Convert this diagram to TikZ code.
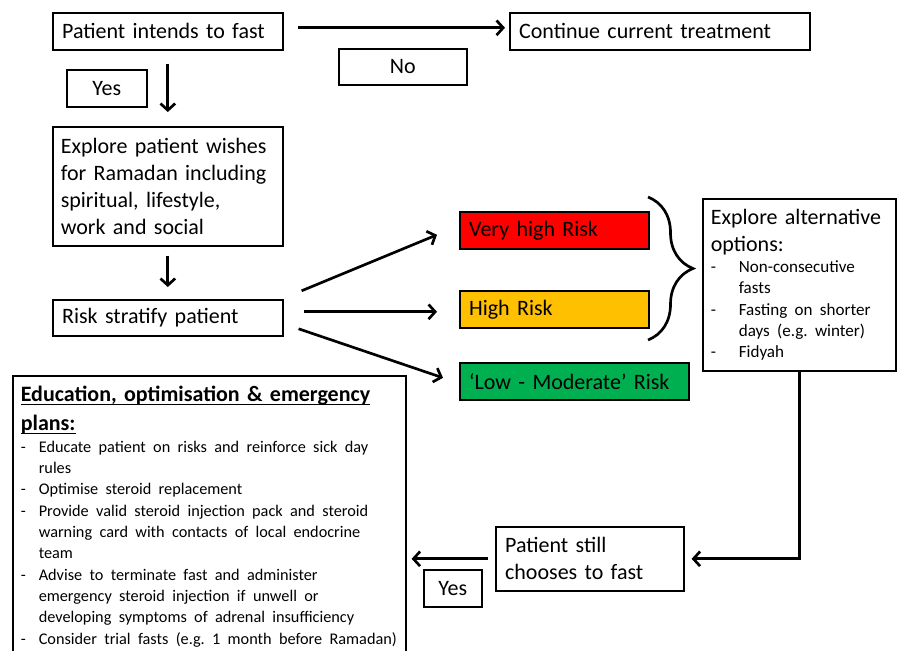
\documentclass[tikz,border=0pt]{standalone}
\usepackage{fontspec}
\setmainfont{Carlito}
\usetikzlibrary{arrows.meta,decorations.pathreplacing,calc}
\frenchspacing

\definecolor{riskred}{HTML}{FF0000}
\definecolor{riskamber}{HTML}{FFC000}
\definecolor{riskgreen}{HTML}{00B050}

\newcommand{\bigtxt}{\fontsize{16.5}{20.25}\selectfont}
\newcommand{\smalltxt}{\fontsize{12.2}{16}\selectfont}
\newcommand{\alttxt}{\fontsize{12.8}{16}\selectfont}
\newcommand{\headtxt}{\fontsize{16.5}{21.75}\selectfont\bfseries}
\newcommand{\headul}[1]{\leavevmode\setbox0=\hbox{#1}\rlap{\rule[-2.4pt]{\wd0}{1.1pt}}\box0}
\newcommand{\optitem}[2][13.5pt]{\par\noindent\hangindent=#1\hangafter=1\makebox[#1][l]{-}#2}

\begin{document}
\begin{tikzpicture}[x=0.75pt, y=-0.75pt, font=\bigtxt,
    box/.style={draw, line width=1.2pt, anchor=north west, align=left, inner xsep=7pt, inner ysep=0pt},
    tag/.style={draw, line width=1.2pt, anchor=north west, align=center, inner sep=0pt},
    arr/.style={-{Straight Barb[length=5pt,width=11pt]}, line width=2pt}]
    \useasboundingbox (0,0) rectangle (898,650);

    \node (intend) [box, text width=158.5pt, minimum height=27.75pt] at (52,12) {Patient intends to fast};
    \node (yes1) [tag, minimum width=60pt, minimum height=27.75pt] at (66,69) {Yes};
    \node (no) [tag, minimum width=96pt, minimum height=27pt] at (338,48) {No};
    \node (cont) [box, text width=211pt, minimum height=27.75pt] at (509,12) {Continue current treatment};
    \node (wishes) [box, inner xsep=6pt, text width=160.5pt, minimum height=89.25pt] at (52,126)
        {Explore patient wishes\\for Ramadan including\\spiritual, lifestyle,\\work and social};
    \node (stratify) [box, text width=158.5pt, minimum height=27pt] at (52,299) {Risk stratify patient};

    \node (vhigh) [box, fill=riskred, text width=127.75pt, minimum height=27.75pt] at (459,211) {Very high Risk};
    \node (high) [box, fill=riskamber, text width=127.75pt, minimum height=27.75pt] at (459,290) {High Risk};
    \node (lowmod) [box, fill=riskgreen, text width=157.75pt, minimum height=27.75pt] at (459,362) {‘Low - Moderate’ Risk};

    \node (alt) [box, inner xsep=6pt, text width=132.75pt, minimum height=129pt] at (702,198)
        {Explore alternative\\options:\par
         {\alttxt
          \optitem[21pt]{Non-consecutive\newline fasts}
          \optitem[21pt]{Fasting on shorter\newline days (e.g. winter)}
          \optitem[21pt]{Fidyah}\par}};

    \node (still) [box, text width=127pt, minimum height=48pt] at (495,526) {Patient still\\chooses to fast};
    \node (yes2) [tag, minimum width=43.5pt, minimum height=27.75pt] at (423,569) {Yes};

    \node (edu) [box, inner xsep=6pt, inner ysep=8pt, text width=282.75pt] at (12,375)
        {{\headtxt \headul{Education, optimisation \& emergency}\par\headul{plans:}\par}
         {\smalltxt
          \optitem{Educate patient on risks and reinforce sick day\newline rules}
          \optitem{Optimise steroid replacement}
          \optitem{Provide valid steroid injection pack and steroid\newline warning card with contacts of local endocrine\newline team}
          \optitem{Advise to terminate fast and administer\newline emergency steroid injection if unwell or\newline developing symptoms of adrenal insufficiency}
          \optitem{Consider trial fasts (e.g. 1 month before Ramadan)}\par}};

    % connectors
    \draw[arr, shorten <=9.75pt, shorten >=10.5pt] (intend) -- (wishes);
    \draw[arr] ([shift={(14,-3.5)}]intend.east) -- ([shift={(-4,-3.5)}]cont.west);
    \draw[arr] ([shift={(0,9)}]wishes.south) -- ([shift={(0,-12)}]stratify.north);
    \draw[arr] ([shift={(18,-27)}]stratify.east) -- ([shift={(-22,4.5)}]vhigh.west);
    \draw[arr] ([shift={(20,-6)}]stratify.east) -- ([shift={(-22,2.5)}]high.west);
    \draw[arr] ([shift={(15,11)}]stratify.east) -- ([shift={(-16,-3.5)}]lowmod.west);
    \draw[line width=2pt, decorate, decoration={brace, amplitude=33.75pt}] (648,197) -- (648,340);
    \draw[arr] (alt.south) |- ([shift={(7,0)}]still.east);
    \draw[arr] ([shift={(-7,0)}]still.west) -- ($(still.west -| edu.east)+(5,0)$);
\end{tikzpicture}
\end{document}
